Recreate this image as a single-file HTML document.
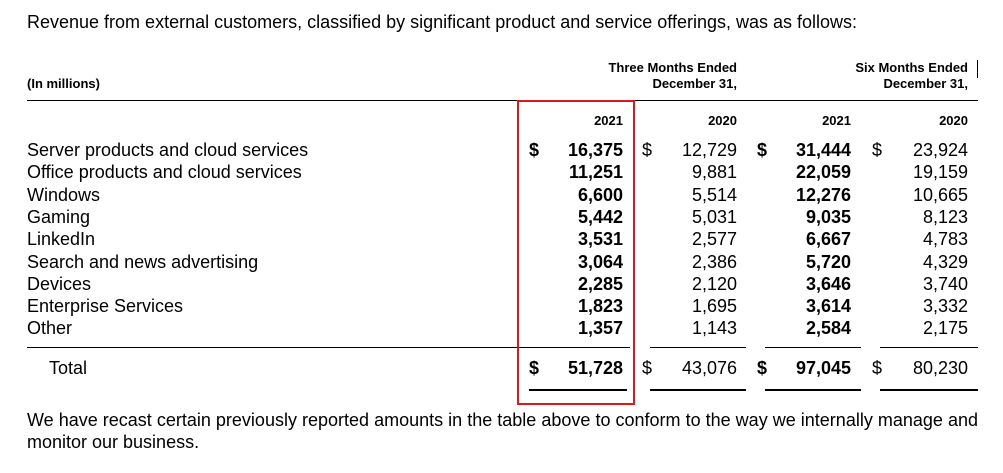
<!DOCTYPE html>
<html><head><meta charset="utf-8"><style>
body{margin:0;width:1003px;height:473px;background:#fff;position:relative;overflow:hidden;font-family:"Liberation Sans",Arial,sans-serif;color:#000}
.t{position:absolute;white-space:nowrap;line-height:1}
.r{text-align:right}
.b{font-weight:bold}
.h{font-size:13px;font-weight:bold}
.f{font-size:18px}
.ln{position:absolute;background:#000}
</style></head><body>
<div class="t f" style="left:27px;top:13px">Revenue from external customers, classified by significant product and service offerings, was as follows:</div>
<div class="t h" style="left:27px;top:77px">(In millions)</div>
<div class="t h r" style="right:266px;top:61px">Three Months Ended</div>
<div class="t h r" style="right:266px;top:77px">December 31,</div>
<div class="t h r" style="right:35px;top:61px">Six Months Ended</div>
<div class="t h r" style="right:35px;top:77px">December 31,</div>
<div class="ln" style="left:977px;top:60px;width:1px;height:18px"></div>
<div class="ln" style="left:27px;top:100px;width:951px;height:1px"></div>
<div class="t h r" style="right:380px;top:114px">2021</div>
<div class="t h r" style="right:266px;top:114px">2020</div>
<div class="t h r" style="right:152px;top:114px">2021</div>
<div class="t h r" style="right:35px;top:114px">2020</div>
<div id="rows"></div>
<div class="ln" style="left:27px;top:347px;width:603px;height:1px"></div>
<div class="ln" style="left:650px;top:347px;width:96px;height:1px"></div>
<div class="ln" style="left:765px;top:347px;width:96px;height:1px"></div>
<div class="ln" style="left:880px;top:347px;width:98px;height:1px"></div>
<div class="ln" style="left:529px;top:389px;width:98px;height:2px"></div>
<div class="ln" style="left:650px;top:389px;width:96px;height:2px"></div>
<div class="ln" style="left:765px;top:389px;width:96px;height:2px"></div>
<div class="ln" style="left:880px;top:389px;width:98px;height:2px"></div>
<div style="position:absolute;left:517px;top:100px;width:114px;height:301px;border:2px solid #e0161d"></div>
<div class="f" style="position:absolute;left:27px;top:409px;width:951px;line-height:22px;text-align:justify">We have recast certain previously reported amounts in the table above to conform to the way we internally manage and monitor our business.</div>
<script>
const labels=["Server products and cloud services","Office products and cloud services","Windows","Gaming","LinkedIn","Search and news advertising","Devices","Enterprise Services","Other","Total"];
const q2021=["16,375","11,251","6,600","5,442","3,531","3,064","2,285","1,823","1,357","51,728"];
const q2020=["12,729","9,881","5,514","5,031","2,577","2,386","2,120","1,695","1,143","43,076"];
const h2021=["31,444","22,059","12,276","9,035","6,667","5,720","3,646","3,614","2,584","97,045"];
const h2020=["23,924","19,159","10,665","8,123","4,783","4,329","3,740","3,332","2,175","80,230"];
const cols=[[q2021,380,529,true],[q2020,266,642,false],[h2021,152,757,true],[h2020,35,872,false]];
const root=document.getElementById('rows');
function add(txt,css,bold){const d=document.createElement('div');d.className='t f'+(bold?' b':'');d.style.cssText=css;d.textContent=txt;root.appendChild(d);return d;}
labels.forEach((lab,i)=>{
  const top=(i<9?141+i*22.3:359);
  const l=add(lab,'left:'+(i<9?27:49)+'px;top:'+top+'px',false);
  
  
  cols.forEach(c=>{
    const v=add(c[0][i],'right:'+c[1]+'px;top:'+top+'px',c[3]);
    
    
    if(i===0||i===9){
      const s=add('$','left:'+c[2]+'px;top:'+top+'px',c[3]);
      
      
    }
  });
});
</script>
</body></html>
